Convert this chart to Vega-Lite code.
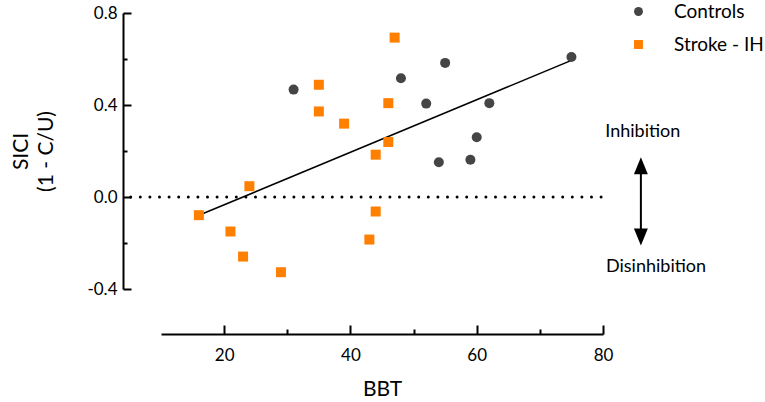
{
  "$schema": "https://vega.github.io/schema/vega-lite/v6.json",
  "autosize": {"type": "none"},
  "padding": {"left": 161, "top": 13, "right": 162, "bottom": 113},
  "width": 442,
  "height": 276,
  "datasets": {
    "pts": [
      {"group": "Controls", "BBT": 31, "SICI": 0.467},
      {"group": "Controls", "BBT": 48, "SICI": 0.516},
      {"group": "Controls", "BBT": 55, "SICI": 0.583},
      {"group": "Controls", "BBT": 52, "SICI": 0.406},
      {"group": "Controls", "BBT": 54, "SICI": 0.151},
      {"group": "Controls", "BBT": 59, "SICI": 0.162},
      {"group": "Controls", "BBT": 60, "SICI": 0.26},
      {"group": "Controls", "BBT": 62, "SICI": 0.408},
      {"group": "Controls", "BBT": 75, "SICI": 0.609},
      {"group": "Stroke - IH", "BBT": 47, "SICI": 0.693},
      {"group": "Stroke - IH", "BBT": 35, "SICI": 0.488},
      {"group": "Stroke - IH", "BBT": 35, "SICI": 0.372},
      {"group": "Stroke - IH", "BBT": 39, "SICI": 0.319},
      {"group": "Stroke - IH", "BBT": 46, "SICI": 0.408},
      {"group": "Stroke - IH", "BBT": 46, "SICI": 0.239},
      {"group": "Stroke - IH", "BBT": 44, "SICI": 0.184},
      {"group": "Stroke - IH", "BBT": 24, "SICI": 0.047},
      {"group": "Stroke - IH", "BBT": 16, "SICI": -0.079},
      {"group": "Stroke - IH", "BBT": 21, "SICI": -0.15},
      {"group": "Stroke - IH", "BBT": 23, "SICI": -0.259},
      {"group": "Stroke - IH", "BBT": 29, "SICI": -0.327},
      {"group": "Stroke - IH", "BBT": 44, "SICI": -0.063},
      {"group": "Stroke - IH", "BBT": 43, "SICI": -0.185}
    ],
    "notes": [
      {"BBT": 86.3, "SICI": 0.282, "label": "Inhibition"},
      {"BBT": 88.4, "SICI": -0.306, "label": "Disinhibition"}
    ]
  },
  "layer": [
    {
      "data": {"values": [{"from": 5.2, "to": 80, "level": 0}]},
      "mark": {"type": "rule", "color": "black", "strokeWidth": 3, "strokeDash": [0, 9.6], "strokeCap": "round"},
      "encoding": {
        "x": {"field": "from", "type": "quantitative"},
        "x2": {"field": "to"},
        "y": {"field": "level", "type": "quantitative"}
      }
    },
    {
      "data": {"name": "pts"},
      "transform": [{"regression": "SICI", "on": "BBT"}],
      "mark": {"type": "line", "color": "black", "strokeWidth": 1.6},
      "encoding": {
        "x": {"field": "BBT", "type": "quantitative"},
        "y": {"field": "SICI", "type": "quantitative"}
      }
    },
    {
      "data": {"name": "pts"},
      "mark": {"type": "point", "filled": true, "opacity": 1, "size": 100},
      "encoding": {
        "x": {
          "field": "BBT", "type": "quantitative",
          "scale": {"domain": [10, 80], "nice": false, "zero": false},
          "axis": {
            "title": "BBT",
            "values": [20, 30, 40, 50, 60, 70, 80],
            "labelExpr": "datum.value % 20 === 0 ? datum.label : ''",
            "offset": 45,
            "tickSize": {"condition": {"test": "datum.value % 20 === 0", "value": -9}, "value": -5},
            "labelPadding": 22,
            "titlePadding": 11
          }
        },
        "y": {
          "field": "SICI", "type": "quantitative",
          "scale": {"domain": [-0.4, 0.8], "nice": false, "zero": false},
          "axis": {
            "title": ["SICI", "(1 - C/U)"],
            "values": [-0.4, -0.2, 0, 0.2, 0.4, 0.6, 0.8],
            "labelExpr": "round(datum.value * 10) % 4 === 0 ? (datum.value < 0 ? '-' + format(abs(datum.value), '.1f') : format(datum.value, '.1f')) : ''",
            "offset": 38,
            "tickSize": {"condition": {"test": "round(datum.value * 10) % 4 === 0", "value": -8}, "value": -4},
            "labelPadding": 14,
            "titlePadding": 30,
            "titleLineHeight": 25
          }
        },
        "color": {
          "field": "group", "type": "nominal",
          "scale": {"domain": ["Controls", "Stroke - IH"], "range": ["#454545", "#ff8000"]},
          "legend": {"title": null}
        },
        "shape": {
          "field": "group", "type": "nominal",
          "scale": {"domain": ["Controls", "Stroke - IH"], "range": ["circle", "square"]},
          "legend": {"title": null}
        }
      }
    },
    {
      "data": {"values": [{"at": 86, "top": 0.136, "bottom": -0.174}]},
      "mark": {"type": "rule", "color": "black", "strokeWidth": 2},
      "encoding": {
        "x": {"field": "at", "type": "quantitative"},
        "y": {"field": "top", "type": "quantitative"},
        "y2": {"field": "bottom"}
      }
    },
    {
      "data": {"values": [{"at": 86, "tip": 0.136}]},
      "mark": {"type": "point", "shape": "M-0.82,1L0,-1L0.82,1Z", "filled": true, "color": "black", "opacity": 1, "size": 289},
      "encoding": {
        "x": {"field": "at", "type": "quantitative"},
        "y": {"field": "tip", "type": "quantitative"}
      }
    },
    {
      "data": {"values": [{"at": 86, "tip": -0.174}]},
      "mark": {"type": "point", "shape": "M-0.82,-1L0,1L0.82,-1Z", "filled": true, "color": "black", "opacity": 1, "size": 289},
      "encoding": {
        "x": {"field": "at", "type": "quantitative"},
        "y": {"field": "tip", "type": "quantitative"}
      }
    },
    {
      "data": {"name": "notes"},
      "mark": {"type": "text", "font": "Lato", "fontSize": 18, "color": "black", "align": "center", "baseline": "middle"},
      "encoding": {
        "x": {"field": "BBT", "type": "quantitative"},
        "y": {"field": "SICI", "type": "quantitative"},
        "text": {"field": "label"}
      }
    }
  ],
  "config": {
    "view": {"stroke": null},
    "font": "Lato",
    "axis": {
      "grid": false,
      "domainColor": "black",
      "domainWidth": 2,
      "tickColor": "black",
      "tickWidth": 2,
      "labelFont": "Lato",
      "labelFontSize": 17,
      "labelColor": "black",
      "labelFlush": false,
      "labelOverlap": false,
      "titleFont": "Lato",
      "titleFontSize": 21,
      "titleFontWeight": "normal",
      "titleColor": "black"
    },
    "legend": {
      "orient": "none",
      "legendX": 468,
      "legendY": -11,
      "padding": 0,
      "symbolSize": 80,
      "symbolStrokeWidth": 0,
      "labelFont": "Lato",
      "labelFontSize": 19,
      "labelColor": "black",
      "labelOffset": 26,
      "rowPadding": 13
    }
  }
}
